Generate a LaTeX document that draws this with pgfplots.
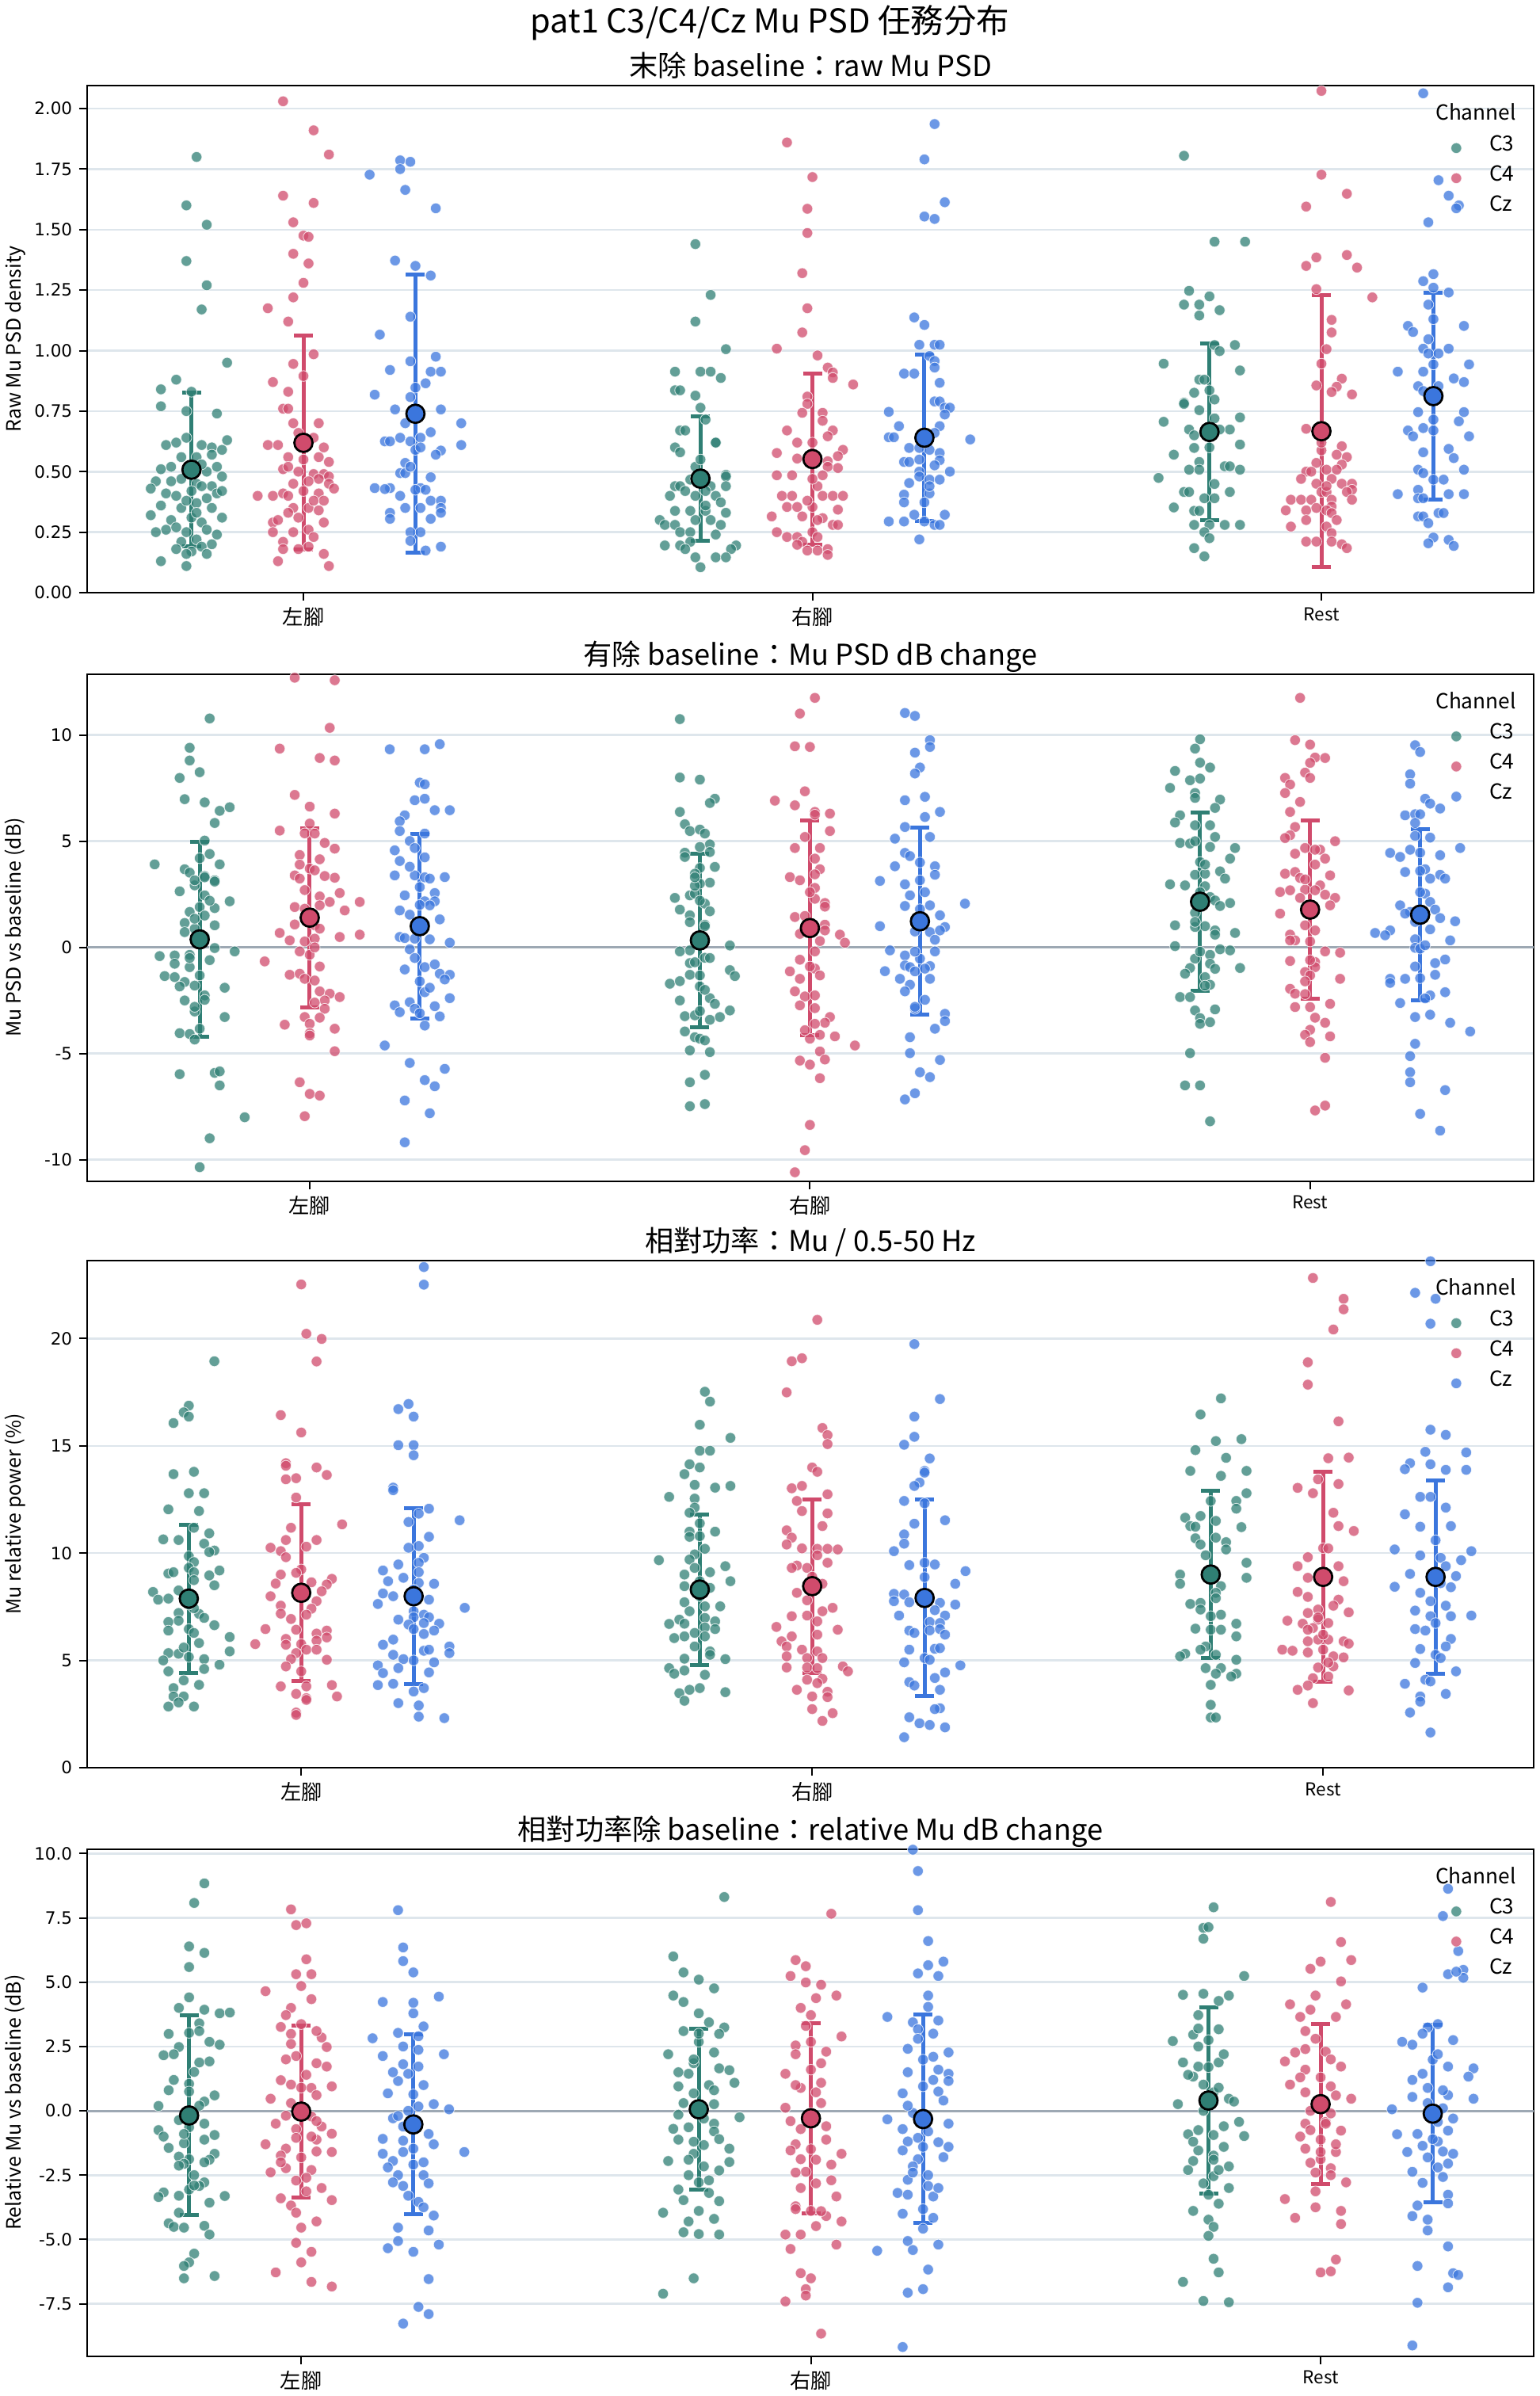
\documentclass[border=0pt]{standalone}
\usepackage{fontspec}
\setmainfont{Noto Sans CJK TC}
\newfontfamily\numfont{DejaVu Sans}
\usepackage{pgfplots}
\pgfplotsset{compat=1.18}

\definecolor{cA}{HTML}{2F7F74}
\definecolor{cB}{HTML}{D04B6C}
\definecolor{cC}{HTML}{3B76DD}
\definecolor{gridc}{HTML}{DEE6EC}
\definecolor{zeroc}{HTML}{9DA8B3}

\newcommand\cjktick[1]{{\fontsize{10.5}{12}\selectfont #1}}

\pgfplotsset{
  panel/.style={
    scale only axis, width=730.4pt, height=256pt,
    axis line style={line width=0.8pt},
    xtick={0,1,2}, xticklabels={\cjktick{左腳},\cjktick{右腳},Rest},
    tick align=outside, tick pos=left, major tick length=4pt,
    every tick/.style={black, line width=0.8pt},
    ymajorgrids, grid style={gridc, line width=1pt},
    xticklabel style={font=\fontsize{9}{10}\selectfont},
    yticklabel style={font=\numfont\fontsize{8.6}{10}\selectfont},
    /pgf/number format/assume math mode=true,
    title style={at={(0.5,1)}, anchor=base, yshift=-1.4pt, font=\fontsize{14.5}{17}\selectfont},
    ylabel style={at={(axis description cs:-0.0498,0.5)}, anchor=center, font=\fontsize{10}{12}\selectfont},
    legend cell align=left,
    legend style={at={(rel axis cs:0.995,0.915)}, anchor=north east, draw=none, fill=none,
      font=\fontsize{10.5}{12}\selectfont, row sep=0pt,
      nodes={inner xsep=3pt, inner ysep=0pt, text height=9pt, text depth=6.2pt},
      /tikz/every odd column/.style={column sep=11pt}},
  },
  pts/.style={only marks, mark=*, mark size=2.7pt,
    mark options={draw=white, line width=0.35pt, fill=#1, opacity=0.75}, forget plot},
  legpt/.style={only marks, mark=*, mark size=2.7pt,
    mark options={draw=white, line width=0.35pt, fill=#1, opacity=0.75}},
  mn/.style={only marks, mark=*, mark size=4.6pt,
    mark options={fill=#1, draw=black, line width=1.1pt}, forget plot,
    error bars/.cd, y dir=both, y explicit,
    error bar style={#1, line width=2pt},
    error mark options={rotate=90, #1, line width=2pt, mark size=4.8pt}},
  zero/.style={zeroc, line width=1.2pt, forget plot},
}

% one strip of jittered trials: jitter in hundredths of a category, then the value
\newcommand\grp[3]{\addplot[pts=#1, x filter/.expression={x/100+(#2)}] coordinates {#3};}
% mean with +/- one standard deviation
\newcommand\mn[4]{\addplot[mn=#1] coordinates {(#2,#3) +- (0,#4)};}
\newcommand\chlegend{%
  \addlegendimage{legpt=cA}\addlegendentry{C3}
  \addlegendimage{legpt=cB}\addlegendentry{C4}
  \addlegendimage{legpt=cC}\addlegendentry{Cz}
  \node[font=\fontsize{10.5}{12}\selectfont, anchor=center] at (rel axis cs:0.960,0.948) {Channel};}

\begin{document}
\begin{tikzpicture}
\path[use as bounding box] (-44pt,43.2pt) rectangle (733.6pt,-1166.4pt);
\node[anchor=base, font=\fontsize{16.6}{20}\selectfont] at (344.8pt,26.4pt) {pat1 C3/C4/Cz Mu PSD 任務分布};

%% ---------------- raw PSD ----------------
\begin{axis}[panel, at={(0,0)}, anchor=north west,
  xmin=-0.425, xmax=2.417, ymin=0, ymax=2.095,
  ytick={0,0.25,0.5,0.75,1,1.25,1.5,1.75,2},
  yticklabel style={/pgf/number format/.cd, fixed, fixed zerofill, precision=2},
  title={末除 baseline：raw Mu PSD}, ylabel={Raw Mu PSD density}]
\grp{cA}{-0.22}{(1,1.80) (-1,1.60) (3,1.52) (-1,1.37) (3,1.27) (2,1.17) (7,0.95) (-3,0.88) (-6,0.84) (-6,0.77) (5,0.74) (0,0.83) (-1,0.75) (-5,0.61) (-3,0.62) (-1,0.64) (2,0.61) (4,0.60) (6,0.59) (7,0.63) (-2,0.56) (1,0.56) (4,0.57) (-4,0.52) (-6,0.51) (0,0.51) (3,0.50) (5,0.52) (-7,0.46) (-2,0.47) (1,0.45) (4,0.44) (6,0.48) (-8,0.43) (-5,0.41) (-3,0.40) (0,0.42) (3,0.39) (5,0.41) (-6,0.36) (-2,0.35) (1,0.37) (4,0.35) (-8,0.32) (-4,0.30) (0,0.31) (2,0.29) (6,0.31) (-5,0.26) (-1,0.25) (3,0.26) (5,0.24) (-7,0.25) (-2,0.21) (1,0.22) (4,0.20) (-3,0.18) (0,0.17) (2,0.19) (-1,0.16) (-6,0.13) (-1,0.11) (3,0.16) (6,0.42) (-4,0.46) (2,0.44) (-1,0.38) (1,0.33) (-3,0.27) (2,0.53)}
\grp{cB}{0}{(-4,2.03) (2,1.91) (5,1.81) (-4,1.64) (2,1.61) (-2,1.53) (0,1.475) (1,1.47) (-2,1.40) (1,1.36) (0,1.28) (-2,1.22) (-7,1.175) (-3,1.12) (2,0.985) (-2,0.945) (0,0.895) (-6,0.87) (-3,0.83) (-4,0.76) (-3,0.76) (-2,0.70) (3,0.70) (-7,0.61) (-5,0.61) (4,0.60) (3,0.56) (-3,0.56) (5,0.54) (-4,0.51) (-3,0.52) (-1,0.50) (2,0.49) (4,0.49) (5,0.48) (3,0.47) (1,0.46) (5,0.45) (-9,0.40) (-6,0.40) (-4,0.41) (-3,0.40) (3,0.41) (4,0.38) (-2,0.35) (1,0.35) (-3,0.33) (-6,0.29) (-5,0.30) (4,0.29) (-6,0.25) (-2,0.25) (1,0.26) (2,0.23) (-4,0.21) (-4,0.18) (-1,0.18) (1,0.19) (4,0.16) (-5,0.13) (5,0.11) (0,0.42) (2,0.38) (-1,0.31) (3,0.34) (0,0.55) (-2,0.45) (2,0.64) (6,0.43) (-1,0.66)}
\grp{cC}{0.22}{(-3,1.786) (-1,1.78) (-3,1.75) (-9,1.727) (-2,1.664) (4,1.588) (-4,1.372) (0,1.35) (3,1.31) (-1,1.14) (-7,1.066) (4,0.975) (-1,0.956) (-5,0.92) (3,0.913) (5,0.913) (2,0.865) (0,0.847) (-8,0.818) (-1,0.808) (-4,0.757) (5,0.757) (9,0.70) (-2,0.70) (3,0.663) (-3,0.64) (1,0.64) (-6,0.625) (-5,0.625) (-1,0.625) (9,0.61) (0,0.59) (5,0.587) (4,0.57) (-2,0.536) (-3,0.494) (-2,0.494) (3,0.477) (-8,0.432) (-5,0.432) (1,0.432) (-6,0.428) (0,0.425) (2,0.425) (3,0.38) (5,0.38) (-2,0.35) (5,0.35) (1,0.35) (-5,0.33) (5,0.33) (-5,0.305) (3,0.305) (-1,0.25) (1,0.25) (-1,0.214) (5,0.19) (2,0.174) (-1,0.52) (1,0.60) (-3,0.40)}
\grp{cA}{0.78}{(-1,1.44) (2,1.23) (-1,1.12) (5,1.006) (-5,0.913) (0,0.913) (2,0.913) (4,0.887) (-5,0.836) (-4,0.836) (-1,0.814) (0,0.764) (1,0.715) (-4,0.67) (-3,0.67) (3,0.62) (3,0.62) (-5,0.60) (-4,0.58) (-1,0.52) (5,0.487) (5,0.48) (-2,0.467) (-5,0.44) (-4,0.44) (2,0.44) (5,0.44) (-3,0.42) (1,0.42) (-6,0.40) (-1,0.40) (3,0.40) (4,0.373) (-5,0.338) (-2,0.338) (1,0.338) (5,0.33) (-8,0.30) (-1,0.30) (2,0.30) (-7,0.28) (-5,0.28) (4,0.28) (-4,0.25) (-2,0.25) (3,0.24) (-2,0.21) (-7,0.195) (-4,0.195) (7,0.195) (-3,0.18) (6,0.18) (-1,0.146) (3,0.146) (5,0.146) (0,0.105) (0,0.55) (1,0.36) (-1,0.47)}
\grp{cB}{1}{(-5,1.86) (0,1.717) (-1,1.586) (-1,1.486) (-2,1.32) (-1,1.175) (-2,1.075) (-7,1.008) (1,0.98) (3,0.93) (4,0.91) (4,0.887) (8,0.86) (-1,0.81) (-1,0.78) (-2,0.743) (2,0.743) (2,0.71) (-5,0.67) (4,0.67) (3,0.646) (-3,0.62) (6,0.59) (-7,0.577) (5,0.564) (-3,0.554) (3,0.543) (5,0.515) (3,0.52) (-7,0.485) (-4,0.485) (2,0.485) (1,0.44) (-6,0.40) (-4,0.40) (2,0.40) (4,0.40) (6,0.40) (-5,0.354) (-3,0.354) (0,0.354) (5,0.343) (-8,0.315) (-2,0.315) (2,0.308) (4,0.28) (5,0.28) (-7,0.25) (0,0.25) (-5,0.23) (-3,0.23) (1,0.23) (-2,0.21) (-3,0.198) (3,0.18) (-1,0.174) (1,0.174) (3,0.156) (0,0.47) (-1,0.38) (1,0.30) (0,0.62)}
\grp{cC}{1.22}{(2,1.936) (0,1.79) (4,1.613) (0,1.554) (2,1.544) (-2,1.137) (0,1.106) (-1,1.024) (2,1.024) (3,1.024) (1,0.978) (2,0.957) (2,0.93) (-4,0.905) (-2,0.905) (3,0.867) (2,0.79) (3,0.79) (4,0.764) (5,0.764) (-7,0.747) (4,0.736) (3,0.688) (-5,0.688) (2,0.66) (-7,0.642) (-6,0.642) (9,0.633) (-3,0.598) (-1,0.598) (1,0.59) (3,0.577) (3,0.547) (-4,0.54) (-3,0.54) (2,0.526) (-1,0.50) (5,0.50) (-1,0.48) (1,0.467) (3,0.467) (-3,0.453) (1,0.41) (-4,0.405) (-4,0.373) (0,0.373) (-2,0.322) (4,0.322) (-7,0.294) (-4,0.294) (0,0.294) (2,0.28) (3,0.28) (-1,0.22) (0,0.62) (-1,0.55) (1,0.44)}
\grp{cA}{1.78}{(-1,2.10) (-5,1.805) (1,1.45) (7,1.45) (-4,1.247) (0,1.224) (-5,1.19) (-2,1.19) (2,1.167) (-2,1.145) (1,1.023) (5,1.023) (2,0.998) (-9,0.946) (6,0.918) (-2,0.88) (-1,0.88) (0,0.836) (-3,0.826) (1,0.798) (-5,0.785) (-5,0.78) (-2,0.754) (6,0.724) (-9,0.706) (-4,0.674) (4,0.674) (2,0.674) (-3,0.65) (6,0.612) (-3,0.598) (-7,0.57) (-2,0.54) (3,0.522) (4,0.522) (-4,0.508) (-2,0.508) (6,0.508) (-10,0.474) (1,0.449) (-5,0.416) (-4,0.416) (4,0.416) (-1,0.39) (1,0.39) (-7,0.352) (-3,0.338) (-2,0.338) (-3,0.28) (0,0.28) (3,0.28) (6,0.28) (-1,0.25) (0,0.225) (-3,0.184) (-1,0.15) (0,0.60) (1,0.72)}
\grp{cB}{2}{(0,2.073) (0,1.727) (5,1.648) (-3,1.595) (5,1.395) (-1,1.385) (-3,1.35) (7,1.343) (-1,1.254) (10,1.22) (2,1.127) (2,1.075) (1,1.006) (0,0.946) (4,0.884) (-1,0.856) (3,0.851) (2,0.829) (6,0.819) (-3,0.677) (4,0.605) (0,0.588) (3,0.57) (5,0.56) (-1,0.536) (4,0.529) (1,0.508) (3,0.508) (-3,0.50) (-2,0.50) (-4,0.47) (2,0.47) (-1,0.45) (4,0.45) (6,0.45) (6,0.425) (0,0.416) (1,0.416) (5,0.416) (-6,0.384) (-4,0.384) (-2,0.384) (2,0.384) (6,0.384) (2,0.356) (-7,0.34) (-3,0.34) (1,0.34) (2,0.329) (-3,0.30) (3,0.30) (-6,0.273) (1,0.273) (2,0.246) (-3,0.211) (-1,0.211) (2,0.211) (4,0.20) (5,0.184) (0,0.62) (-1,0.35) (1,0.44)}
\grp{cC}{2.22}{(-2,2.063) (1,1.704) (3,1.64) (5,1.60) (-1,1.53) (0,1.316) (-2,1.287) (0,1.26) (3,1.24) (-1,1.19) (0,1.13) (-5,1.102) (6,1.102) (-4,1.077) (-1,1.047) (-2,1.008) (3,1.008) (-1,0.988) (1,0.988) (0,0.943) (7,0.943) (-7,0.913) (-2,0.913) (4,0.885) (6,0.87) (-3,0.853) (1,0.853) (-2,0.833) (-3,0.746) (6,0.746) (0,0.715) (5,0.708) (-2,0.68) (-5,0.67) (0,0.67) (-4,0.646) (7,0.646) (3,0.594) (-2,0.58) (4,0.556) (-3,0.508) (6,0.508) (-2,0.494) (0,0.467) (2,0.467) (-3,0.425) (-7,0.407) (3,0.407) (6,0.407) (-3,0.39) (-2,0.39) (1,0.329) (2,0.329) (-3,0.315) (-2,0.315) (-1,0.287) (0,0.228) (3,0.218) (-1,0.204) (4,0.193)}
\mn{cA}{-0.22}{0.508}{0.318}
\mn{cB}{0}{0.619}{0.442}
\mn{cC}{0.22}{0.739}{0.575}
\mn{cA}{0.78}{0.471}{0.257}
\mn{cB}{1}{0.552}{0.353}
\mn{cC}{1.22}{0.640}{0.343}
\mn{cA}{1.78}{0.664}{0.366}
\mn{cB}{2}{0.667}{0.562}
\mn{cC}{2.22}{0.812}{0.426}
\chlegend
\end{axis}

%% ---------------- dB change ----------------
\begin{axis}[panel, at={(0,-297pt)}, anchor=north west,
  xmin=-0.445, xmax=2.447, ymin=-11.0, ymax=12.88,
  ytick={-10,-5,0,5,10},
  title={有除 baseline：Mu PSD dB change}, ylabel={Mu PSD vs baseline (dB)}]
\addplot[zero] coordinates {(-1,0) (3,0)};
\grp{cA}{-0.22}{(2,10.78) (-2,9.4) (-2,8.8) (0,8.25) (-4,7.98) (-3,6.98) (1,6.83) (4,6.43) (6,6.6) (3,5.86) (1,5.03) (2,4.4) (-9,3.91) (4,3.91) (-3,3.68) (-2,3.52) (1,3.36) (3,3.16) (3,3.1) (-1,2.92) (-4,2.64) (6,2.17) (3,1.85) (-2,1.67) (0,1.9) (-3,1.15) (3,1.04) (-1,0.88) (1,0.49) (3,-0.03) (7,-0.19) (-8,-0.41) (-5,-0.38) (-2,-0.35) (-5,-0.77) (-2,-0.93) (-7,-1.35) (-5,-1.4) (-3,-1.63) (-4,-1.84) (0,-1.32) (5,-1.9) (1,-2.26) (-1,-3.02) (1,-2.47) (5,-3.28) (-4,-4.04) (-2,-4.08) (0,-3.83) (-1,-4.34) (-4,-5.97) (3,-5.91) (4,-5.84) (4,-6.5) (9,-8.0) (2,-8.99) (0,-10.35) (-1,1.35) (-1,3.16) (1,2.45) (-3,0.72) (0,4.2) (2,-0.6) (-1,-2.8) (1,1.5) (-2,-0.5) (2,2.2) (-1,-1.8) (1,3.3) (-3,-2.5)}
\grp{cB}{0}{(-3,12.7) (5,12.58) (4,10.34) (-6,9.36) (2,8.92) (5,8.8) (-3,7.18) (0,6.63) (5,6.3) (0,5.83) (-6,5.5) (-1,5.37) (1,5.36) (3,4.92) (5,4.65) (-2,4.35) (2,4.15) (0,3.71) (1,3.63) (-3,3.39) (5,3.28) (3,3.36) (-2,3.24) (6,2.56) (2,2.4) (4,2.14) (10,2.14) (-3,1.9) (-1,1.82) (2,1.98) (7,1.74) (-3,1.08) (1,1.04) (2,0.88) (-6,0.68) (10,0.6) (-4,0.33) (-1,0.28) (1,0.41) (6,0.49) (0,-0.35) (-2,-0.19) (-9,-0.66) (-4,-1.29) (-2,-1.24) (-1,-1.48) (1,-1.56) (2,-2.07) (4,-2.18) (6,-2.34) (3,-2.5) (3,-2.89) (-1,-3.28) (2,-3.31) (0,-3.6) (-5,-3.64) (5,-3.83) (0,-4.04) (0,-4.15) (5,-4.89) (-2,-6.35) (0,-6.9) (2,-6.98) (-1,-7.95) (-1,2.7) (1,0.0) (2,-0.9) (-2,3.9) (1,-2.6) (0,1.2)}
\grp{cC}{0.22}{(-6,9.33) (1,9.33) (4,9.57) (0,7.76) (1,7.68) (-1,6.93) (1,7.0) (3,6.46) (6,6.46) (-3,6.22) (-4,5.94) (-4,5.48) (1,5.36) (-2,5.01) (-1,4.68) (-5,4.57) (1,4.24) (-4,4.07) (-5,3.39) (-1,3.39) (1,3.3) (2,3.24) (5,3.31) (0,2.84) (-3,2.45) (3,2.56) (1,2.17) (3,2.17) (-4,1.74) (-2,1.54) (4,1.32) (2,1.98) (0,0.8) (-4,0.49) (-3,0.44) (-1,0.41) (2,0.38) (6,0.22) (-2,-0.09) (1,-0.93) (-3,-1.04) (3,-0.8) (4,-1.24) (6,-1.29) (5,-1.51) (0,-1.6) (1,-2.11) (6,-2.39) (-2,-2.58) (-5,-2.73) (3,-2.77) (-4,-3.05) (-1,-2.89) (4,-3.25) (1,-3.68) (-7,-4.62) (-2,-5.44) (5,-5.72) (1,-6.25) (3,-6.54) (-3,-7.21) (2,-7.81) (-3,-9.18) (0,2.0) (-1,-0.5) (1,1.1) (-2,3.8) (2,-1.9) (0,-3.1)}
\grp{cA}{0.78}{(-4,10.75) (-4,8.0) (0,7.9) (3,7.0) (2,6.8) (-4,6.38) (-3,5.8) (-2,5.48) (0,5.55) (1,5.36) (2,4.85) (0,4.73) (-3,4.46) (-3,4.26) (2,4.49) (3,3.79) (0,3.74) (-1,3.47) (2,3.05) (0,3.0) (-5,2.33) (-2,2.45) (-1,2.53) (-4,1.78) (1,2.06) (2,1.7) (-2,1.51) (-2,1.19) (1,1.07) (6,0.09) (-2,-0.14) (-4,-0.19) (1,-0.49) (2,-0.5) (-2,-0.74) (6,-1.07) (7,-1.35) (-2,-1.29) (0,-1.32) (-6,-1.71) (-4,-1.59) (0,-1.84) (2,-2.39) (-4,-2.5) (3,-2.66) (6,-2.97) (-3,-3.24) (-1,-3.2) (4,-3.28) (2,-3.41) (-3,-3.96) (-1,-4.23) (0,-4.3) (1,-4.38) (-2,-4.85) (2,-4.93) (1,-6.0) (-2,-6.35) (-2,-7.48) (1,-7.38) (0,0.5) (-1,2.9) (1,1.0) (-1,-0.7) (0,2.2) (1,-2.0) (-1,3.3) (0,-3.0)}
\grp{cB}{1}{(-2,11.01) (-3,9.47) (-7,6.91) (-3,6.69) (-3,4.68) (-4,3.31) (-2,3.16) (-3,1.43) (-1,1.48) (-2,0.64) (-2,-0.58) (-4,-1.13) (-2,-1.48) (-3,-2.07) (-1,-2.31) (-2,-2.73) (-2,-5.33) (0,-5.52) (-1,-9.55) (-3,-10.59) (0,-4.3) (0,-8.36) (1,11.75) (0,9.44) (-1,7.35) (1,6.38) (4,6.3) (1,6.25) (4,5.48) (2,4.68) (1,4.18) (2,3.68) (1,3.44) (1,2.8) (1,2.29) (3,2.09) (3,1.92) (3,1.07) (3,0.8) (6,0.6) (7,0.22) (1,-0.19) (1,-1.0) (2,-1.32) (1,-2.26) (1,-2.86) (4,-3.28) (3,-3.55) (1,-3.6) (2,-4.12) (5,-4.19) (9,-4.62) (2,-4.9) (3,-5.28) (2,-6.16) (0,2.6) (-1,5.2) (0,-0.9) (-1,-3.9) (2,0.3)}
\grp{cC}{1.22}{(-3,11.04) (-1,10.9) (2,9.76) (2,9.44) (-1,9.17) (0,8.47) (-1,8.19) (-3,6.93) (1,7.09) (4,6.38) (1,6.14) (-3,5.67) (-5,5.12) (2,5.2) (-3,4.45) (-2,4.3) (-5,3.82) (3,3.82) (3,3.42) (-8,3.13) (0,3.16) (-3,2.97) (-2,2.45) (2,1.98) (-3,1.95) (9,2.06) (4,1.51) (-8,1.0) (5,0.96) (-1,0.75) (2,0.72) (4,0.8) (3,0.36) (-6,-0.14) (3,-0.19) (-3,-0.38) (0,-0.53) (-3,-0.85) (-2,-0.93) (2,-0.88) (-7,-1.12) (-1,-1.13) (-4,-1.48) (2,-1.48) (-2,-1.76) (-3,-2.07) (1,-2.47) (-1,-2.89) (5,-3.13) (5,-3.47) (3,-3.83) (-2,-4.23) (-2,-4.98) (4,-5.3) (0,-5.88) (2,-6.11) (-1,-6.87) (-3,-7.16) (0,1.8) (-1,-0.2) (1,2.6) (1,-1.0) (0,4.0) (-1,-2.8)}
\grp{cA}{1.78}{(0,9.8) (-1,9.36) (0,8.7) (2,8.47) (-5,8.31) (-2,7.87) (0,7.95) (-6,7.51) (-1,7.27) (-1,7.04) (4,6.96) (3,6.57) (-4,6.22) (-5,5.88) (-1,5.75) (2,5.75) (3,5.2) (-4,4.92) (-2,4.89) (7,4.68) (2,4.73) (6,4.18) (0,4.02) (4,3.58) (-1,3.42) (1,3.47) (5,3.24) (-6,2.97) (-3,2.92) (1,2.88) (2,2.37) (3,2.21) (6,2.09) (4,1.95) (-1,1.63) (-5,1.04) (1,1.0) (-1,0.96) (3,0.8) (7,0.68) (3,0.6) (-5,0.06) (4,-0.09) (6,-0.14) (2,-0.35) (-1,-0.53) (2,-0.77) (-2,-0.97) (-3,-1.24) (3,-1.01) (8,-0.97) (1,-1.4) (2,-1.76) (-4,-2.34) (-2,-2.34) (3,-2.92) (-1,-2.97) (0,-3.33) (0,-3.6) (2,-3.52) (-2,-4.98) (-3,-6.5) (0,-6.5) (2,-8.19) (0,2.6) (-1,1.2) (1,3.9) (0,-0.2) (-1,5.0) (1,-1.8)}
\grp{cB}{2}{(-2,11.75) (-3,9.76) (0,9.55) (1,8.94) (3,8.92) (0,8.69) (-1,8.23) (0,7.98) (-5,7.98) (-4,7.67) (-5,7.27) (-2,6.85) (-4,6.38) (-3,5.67) (-4,5.28) (-5,5.15) (5,5.0) (-1,4.68) (2,4.6) (-3,4.41) (3,4.18) (1,3.9) (-5,3.47) (-3,3.55) (4,3.39) (-2,3.27) (2,2.92) (-6,2.61) (-4,2.69) (-1,2.72) (1,2.69) (3,2.48) (5,2.33) (4,1.98) (-6,1.59) (-2,2.33) (-1,1.04) (-4,0.6) (-3,0.33) (-4,0.33) (0,0.28) (3,-0.19) (6,-0.25) (-4,-0.64) (1,-0.69) (1,-0.93) (-1,-1.16) (0,-1.32) (6,-1.48) (-1,-1.6) (-4,-1.95) (-3,-2.18) (-3,-2.81) (0,-2.81) (4,-2.66) (1,-3.31) (3,-3.55) (0,-3.88) (-1,-4.12) (4,-4.19) (0,-4.46) (3,-5.2) (1,-7.68) (3,-7.45) (0,2.0) (-1,3.2) (1,0.8) (0,-0.6) (1,4.6) (-1,-2.2)}
\grp{cC}{2.22}{(-1,9.52) (0,9.2) (-2,8.15) (-2,7.71) (1,7.0) (2,6.77) (4,6.54) (-3,6.22) (-1,6.27) (0,6.27) (-1,5.86) (-1,5.25) (2,5.17) (8,4.68) (-6,4.45) (-4,4.26) (-2,4.6) (0,4.46) (4,4.34) (-3,3.55) (1,3.68) (4,3.42) (2,3.24) (5,3.24) (1,2.53) (-4,1.98) (-2,1.67) (2,2.14) (3,1.78) (-3,1.59) (4,1.38) (7,1.23) (-9,0.68) (-6,0.8) (-7,0.57) (2,0.85) (6,0.33) (-1,0.38) (-1,-0.02) (0,-0.06) (5,-0.57) (3,-0.74) (3,-1.29) (-6,-1.48) (-6,-1.67) (-3,-1.48) (0,-1.45) (5,-2.11) (2,-2.26) (-4,-2.62) (-1,-3.28) (2,-3.17) (6,-3.55) (10,-3.96) (-1,-4.54) (-2,-5.12) (-2,-5.88) (-2,-6.35) (5,-6.72) (0,-7.84) (4,-8.63) (0,2.6) (-1,1.2) (1,0.1) (0,3.6) (-1,-0.9) (1,-2.4)}
\mn{cA}{-0.22}{0.377}{4.60}
\mn{cB}{0}{1.40}{4.21}
\mn{cC}{0.22}{1.00}{4.35}
\mn{cA}{0.78}{0.33}{4.08}
\mn{cB}{1}{0.91}{5.05}
\mn{cC}{1.22}{1.23}{4.40}
\mn{cA}{1.78}{2.15}{4.20}
\mn{cB}{2}{1.78}{4.20}
\mn{cC}{2.22}{1.54}{4.02}
\chlegend
\end{axis}

%% ---------------- relative power ----------------
\begin{axis}[panel, at={(0,-593.2pt)}, anchor=north west,
  xmin=-0.419, xmax=2.412, ymin=0, ymax=23.63,
  ytick={0,5,10,15,20},
  title={相對功率：Mu / 0.5-50 Hz}, ylabel={Mu relative power (\%)}]
\grp{cA}{-0.22}{(5,18.94) (0,16.87) (-1,16.56) (0,16.36) (-3,16.06) (-3,13.68) (1,13.79) (0,12.79) (3,12.79) (-4,12.04) (2,11.96) (1,11.18) (4,10.92) (-5,10.64) (-2,10.61) (3,10.44) (5,10.12) (4,10.05) (0,9.86) (1,9.58) (0,9.31) (6,9.19) (-4,9.05) (-3,9.11) (1,9.11) (4,8.96) (1,8.74) (5,8.5) (-7,8.19) (-2,8.26) (-6,7.83) (-4,7.88) (-2,7.21) (2,7.17) (1,7.43) (-2,6.85) (3,6.98) (-4,6.79) (5,6.64) (0,6.46) (1,6.28) (-4,6.39) (2,5.81) (8,6.09) (8,5.42) (-4,5.34) (-2,5.31) (-5,5.0) (0,5.16) (3,5.06) (6,4.8) (-4,4.49) (3,4.6) (-1,4.07) (2,3.86) (-3,3.71) (-3,3.32) (-1,3.32) (-2,3.04) (-4,2.85) (1,2.85) (0,7.6) (-1,5.6)}
\grp{cB}{0}{(0,22.52) (1,20.22) (4,19.98) (3,18.93) (-4,16.43) (0,15.62) (-3,14.19) (-3,14.07) (3,13.99) (5,13.64) (-3,13.44) (-1,13.49) (-1,12.59) (8,11.34) (-2,11.18) (-3,10.61) (3,10.61) (-6,10.25) (-4,10.09) (1,10.3) (-3,9.81) (0,9.24) (-1,9.08) (-4,9.0) (6,8.8) (2,8.64) (5,8.54) (-5,8.58) (4,8.22) (-6,7.99) (3,7.76) (-4,7.55) (2,7.41) (-4,7.18) (-2,6.93) (1,7.13) (-1,6.43) (-7,6.46) (3,6.25) (5,6.39) (5,6.07) (-3,6.0) (3,5.92) (-9,5.76) (0,5.76) (-3,5.73) (1,5.5) (3,5.5) (-1,5.34) (-2,5.06) (5,5.03) (-3,4.72) (0,4.49) (-4,3.79) (6,3.85) (1,3.79) (-1,3.44) (7,3.32) (1,3.24) (1,3.16) (-1,2.57) (-1,2.46)}
\grp{cC}{0.22}{(2,23.33) (2,22.51) (-1,16.95) (-3,16.71) (0,16.36) (-3,15.03) (0,15.03) (0,14.56) (-4,13.05) (-4,12.93) (3,12.07) (1,11.84) (9,11.53) (-1,11.45) (3,10.76) (1,10.33) (-1,10.25) (2,9.78) (1,9.55) (-3,9.47) (-6,9.19) (-2,8.85) (1,9.11) (-5,8.69) (4,8.57) (1,8.61) (0,8.3) (-6,8.12) (-4,7.99) (3,7.83) (-7,7.63) (10,7.45) (0,7.29) (2,7.13) (0,7.01) (3,7.01) (-3,6.9) (5,6.71) (-1,6.67) (2,6.74) (0,6.46) (4,6.39) (2,6.23) (-6,5.73) (-4,5.97) (7,5.65) (2,5.45) (-4,5.26) (3,5.5) (7,5.34) (-2,5.06) (0,5.0) (4,4.91) (-7,4.77) (-3,4.64) (3,4.44) (-6,4.41) (-7,3.85) (-4,3.91) (2,3.71) (0,3.55) (-3,3.01) (1,2.9) (6,2.31) (1,2.38)}
\grp{cA}{0.78}{(1,17.52) (2,17.06) (0,15.98) (6,15.37) (0,14.77) (2,14.77) (-2,14.14) (0,13.99) (-3,13.68) (-1,13.18) (3,13.05) (6,13.13) (-6,12.62) (-1,12.54) (-1,12.12) (-2,11.88) (0,11.39) (3,11.0) (-2,11.0) (-2,10.76) (0,10.79) (1,10.2) (-1,9.94) (-2,9.7) (-8,9.67) (5,9.39) (-1,9.31) (2,9.11) (-3,9.0) (6,8.69) (0,8.69) (-3,8.46) (2,8.38) (0,7.99) (-3,7.71) (4,7.52) (1,7.52) (-2,7.29) (1,6.98) (-4,6.9) (3,6.82) (-6,6.7) (-3,6.71) (1,6.54) (3,6.46) (-1,6.28) (-5,6.04) (-3,6.12) (1,6.12) (-1,5.65) (2,5.42) (5,5.06) (-3,5.08) (2,5.26) (-6,4.64) (-5,4.38) (-3,4.53) (1,4.33) (-2,3.63) (0,3.71) (-4,3.47) (5,3.52) (-3,3.12)}
\grp{cB}{1}{(-4,18.94) (-2,19.08) (-5,17.49) (0,13.99) (-4,13.02) (-2,13.13) (-3,12.43) (-2,11.96) (-5,11.06) (-4,10.72) (-5,10.4) (-2,10.22) (-3,9.42) (-1,9.31) (-4,9.31) (-3,8.15) (-4,7.06) (-1,7.09) (-7,6.56) (-4,6.12) (-6,5.89) (-5,5.65) (-2,5.5) (-5,5.19) (-1,5.11) (-5,4.67) (-1,4.67) (-1,4.1) (-3,3.63) (0,3.32) (0,2.73) (1,20.87) (2,15.83) (3,15.5) (3,15.08) (1,13.79) (3,12.74) (3,11.85) (2,11.26) (1,10.2) (3,10.2) (5,10.17) (3,9.55) (2,8.57) (4,7.45) (2,7.29) (1,6.82) (5,6.43) (1,6.2) (1,5.42) (2,5.11) (6,4.72) (7,4.49) (1,4.64) (2,4.14) (3,3.54) (3,3.29) (2,2.18) (4,2.54) (1,3.94) (0,8.9) (-1,7.8) (1,9.9)}
\grp{cC}{1.22}{(-2,19.74) (3,17.18) (-2,16.36) (-2,15.42) (-4,15.05) (1,14.41) (0,13.83) (0,13.75) (-1,13.29) (-2,13.13) (-4,12.43) (0,12.32) (4,11.53) (-2,11.37) (-4,10.87) (-6,10.09) (-4,10.44) (0,9.55) (-3,9.44) (2,9.47) (8,9.16) (6,8.57) (0,8.88) (-6,8.1) (-4,8.07) (-6,7.76) (-3,7.71) (3,7.68) (6,7.6) (-5,7.09) (2,7.34) (4,7.09) (1,6.79) (3,6.74) (-3,6.39) (1,6.4) (3,6.46) (4,6.2) (-2,6.28) (-3,5.5) (2,5.54) (3,5.57) (0,5.11) (-4,4.91) (7,4.77) (1,5.03) (4,4.44) (2,4.18) (-3,3.99) (-2,3.83) (3,3.63) (3,2.77) (2,2.73) (-3,2.35) (-1,2.07) (1,1.99) (4,1.88) (-4,1.42)}
\grp{cA}{1.78}{(2,17.21) (-2,16.46) (1,15.22) (6,15.31) (-3,14.8) (3,14.44) (-4,13.83) (2,13.6) (7,13.83) (7,12.79) (5,12.43) (5,12.07) (0,12.43) (-5,11.65) (-2,11.73) (1,11.5) (-4,11.26) (-3,11.23) (6,11.21) (-3,10.69) (1,10.72) (3,10.51) (-2,10.4) (3,10.17) (7,9.55) (-6,9.0) (0,9.08) (7,8.85) (-6,8.57) (2,8.46) (1,8.15) (-4,7.63) (-2,7.68) (-2,7.37) (2,7.13) (0,7.06) (5,6.71) (-3,6.48) (0,6.43) (2,6.43) (5,6.12) (-1,5.65) (-2,5.5) (-5,5.31) (1,5.26) (5,5.03) (-6,5.19) (-1,4.64) (2,4.64) (1,4.38) (5,4.38) (4,4.25) (0,3.86) (0,2.93) (0,2.34) (1,2.34) (-1,9.9) (1,7.9)}
\grp{cB}{2}{(-2,22.82) (4,21.85) (4,21.36) (2,20.42) (-3,18.89) (-3,17.85) (3,16.14) (1,14.42) (5,14.45) (-1,13.44) (3,13.22) (-5,13.04) (-2,12.79) (2,11.88) (3,11.26) (6,11.03) (0,10.23) (1,10.22) (-3,9.81) (-5,9.39) (3,9.39) (-3,8.85) (4,8.69) (-5,8.19) (-3,7.96) (3,7.83) (2,7.55) (-1,7.37) (5,7.24) (-7,6.85) (-3,7.21) (-1,6.9) (1,6.74) (-4,6.71) (-2,6.51) (-3,6.43) (-1,5.97) (4,5.89) (-3,5.89) (1,5.97) (5,5.78) (-8,5.5) (-6,5.45) (-3,5.37) (0,5.5) (2,5.19) (4,5.14) (-1,4.67) (2,4.72) (1,4.25) (-2,4.17) (-5,3.63) (-3,3.83) (5,3.6) (-2,3.01) (0,6.2) (-1,7.0) (1,4.9)}
\grp{cC}{2.22}{(-1,23.6) (-4,22.13) (0,21.85) (-1,20.69) (-1,15.75) (2,15.51) (-2,14.72) (6,14.69) (-5,14.19) (-1,14.14) (6,13.88) (-6,13.91) (2,13.88) (-3,12.62) (-1,12.62) (2,12.12) (-6,11.81) (-3,11.23) (3,11.26) (-8,10.17) (-3,9.89) (1,9.78) (5,9.67) (7,10.09) (2,9.39) (-5,9.03) (4,8.93) (-8,8.43) (-3,8.15) (3,8.41) (-1,7.76) (2,7.55) (-4,7.32) (7,7.09) (-1,7.06) (0,6.74) (3,7.06) (-4,6.46) (-2,6.39) (3,6.0) (2,5.65) (-3,5.53) (0,5.26) (1,5.11) (-4,4.88) (4,4.49) (-2,4.1) (-1,4.02) (-6,3.91) (2,3.44) (-3,3.32) (-3,3.08) (-5,2.57) (-1,1.64) (0,10.6) (1,8.6)}
\mn{cA}{-0.22}{7.88}{3.45}
\mn{cB}{0}{8.15}{4.12}
\mn{cC}{0.22}{7.99}{4.10}
\mn{cA}{0.78}{8.30}{3.50}
\mn{cB}{1}{8.46}{4.05}
\mn{cC}{1.22}{7.91}{4.58}
\mn{cA}{1.78}{9.00}{3.90}
\mn{cB}{2}{8.89}{4.90}
\mn{cC}{2.22}{8.89}{4.50}
\chlegend
\end{axis}

%% ---------------- relative dB change ----------------
\begin{axis}[panel, at={(0,-890.2pt)}, anchor=north west,
  xmin=-0.42, xmax=2.418, ymin=-9.53, ymax=10.18,
  ytick={-7.5,-5,-2.5,0,2.5,5,7.5,10},
  yticklabel style={/pgf/number format/.cd, fixed, fixed zerofill, precision=1},
  title={相對功率除 baseline：relative Mu dB change}, ylabel={Relative Mu vs baseline (dB)}]
\addplot[zero] coordinates {(-1,0) (3,0)};
\grp{cA}{-0.22}{(7,10.25) (3,8.84) (1,8.08) (0,6.39) (3,6.14) (0,5.59) (0,4.41) (-2,4.0) (3,3.93) (6,3.79) (8,3.82) (2,3.4) (-4,2.99) (0,3.03) (4,2.68) (6,2.57) (-2,2.48) (-5,2.16) (4,1.92) (2,1.88) (1,1.51) (0,1.05) (0,0.75) (3,0.36) (-6,0.19) (-2,-0.36) (3,-0.5) (-6,-0.75) (0,-0.64) (5,-0.94) (3,-1.12) (-4,-1.44) (-1,-1.26) (5,-1.67) (-2,-1.78) (0,-1.88) (-1,-2.06) (-2,-2.13) (1,-2.5) (3,-2.78) (2,-2.92) (0,-3.06) (-5,-3.17) (-6,-3.35) (7,-3.31) (4,-3.57) (-2,-3.96) (-4,-4.37) (-3,-4.51) (-1,-4.54) (3,-4.47) (4,-4.81) (1,-5.55) (0,-5.89) (-1,-6.03) (5,-6.42) (-1,-6.51) (-3,1.2) (2,0.2) (-1,-0.9) (4,-1.9) (-3,2.2) (1,-2.9) (-4,0.8) (5,0.6) (-2,-3.3) (2,3.1) (-5,-1.0) (3,-2.0)}
\grp{cB}{0}{(-2,7.83) (-1,7.22) (1,7.29) (1,5.89) (-1,5.31) (2,5.31) (0,4.85) (-7,4.65) (2,4.34) (-2,4.0) (-3,3.72) (-4,3.26) (0,3.37) (-2,2.99) (4,2.85) (5,2.48) (-1,2.13) (3,1.85) (5,1.72) (-4,1.19) (-2,1.02) (2,0.89) (6,0.95) (3,0.61) (-6,0.47) (-3,-0.19) (2,-0.22) (-1,-0.71) (4,-0.61) (6,-0.89) (3,-1.12) (-1,-1.05) (-7,-1.3) (-3,-1.47) (-4,-1.74) (0,-1.81) (3,-1.58) (6,-1.6) (-3,-2.23) (2,-2.3) (-6,-2.39) (-1,-2.71) (1,-3.13) (-4,-3.4) (6,-3.47) (-2,-3.68) (-1,-3.96) (3,-4.3) (0,-4.54) (-1,-5.13) (2,-5.48) (0,-5.89) (-5,-6.28) (2,-6.65) (6,-6.83) (-3,2.0) (1,1.4) (-2,0.3) (3,-0.4) (-5,-0.5) (1,-2.6) (4,-3.0) (-2,2.6) (0,0.9) (3,3.1) (-4,-2.0) (2,-1.0)}
\grp{cC}{0.22}{(-3,7.8) (-2,6.35) (-2,5.82) (0,5.38) (-6,4.23) (0,4.2) (5,4.44) (0,3.79) (2,3.28) (-3,3.03) (-8,2.82) (1,2.37) (6,2.2) (-6,2.13) (-2,1.81) (1,1.72) (-1,1.44) (-3,1.16) (-5,0.68) (0,0.64) (4,0.26) (7,0.06) (1,0.17) (-4,-0.29) (-2,-0.61) (-6,-1.09) (-2,-1.16) (0,-1.47) (-6,-1.67) (-2,-1.6) (-4,-1.95) (10,-1.6) (0,-2.09) (-3,-2.5) (2,-2.5) (-4,-2.78) (-2,-2.92) (3,-2.82) (1,-3.54) (2,-3.75) (4,-4.07) (-3,-4.54) (3,-4.65) (-3,-5.06) (-5,-5.34) (5,-5.2) (0,-5.48) (3,-6.54) (1,-7.62) (3,-7.9) (-2,-8.27) (-1,0.0) (3,-0.9) (-4,1.5) (2,1.0) (-1,-3.3) (4,-1.3) (-3,-0.2) (1,2.9) (-5,-2.2) (2,-2.0) (0,-0.7) (-2,2.5)}
\grp{cA}{0.78}{(5,8.31) (-5,6.0) (-3,5.38) (0,5.1) (3,4.76) (-5,4.48) (-3,4.23) (0,3.79) (2,3.44) (-3,3.1) (5,3.24) (4,2.99) (0,2.68) (3,2.27) (-6,2.2) (-1,1.85) (4,1.65) (6,1.58) (-2,1.44) (7,1.09) (-4,0.95) (-1,0.68) (3,0.26) (-4,-0.15) (8,-0.25) (3,-0.5) (-2,-0.64) (3,-0.8) (-4,-1.12) (1,-1.33) (6,-1.47) (-1,-1.67) (-6,-1.95) (6,-1.99) (1,-2.16) (-2,-2.5) (4,-2.32) (0,-2.78) (-4,-3.06) (2,-3.19) (4,-3.51) (-3,-3.47) (-7,-3.96) (0,-3.89) (3,-4.2) (-2,-4.3) (0,-4.79) (4,-4.81) (-3,-4.72) (-1,-6.51) (-7,-7.11) (-1,2.0) (2,1.0) (-3,0.3) (1,-0.3) (4,-1.1) (-2,-1.9) (2,-2.7) (-4,1.5) (0,3.0) (-1,-1.2) (3,0.8) (-5,-0.7)}
\grp{cB}{1}{(4,7.66) (-3,5.86) (-1,5.62) (-4,5.24) (-1,4.99) (2,4.9) (5,4.48) (1,4.38) (-2,4.0) (0,3.72) (6,2.89) (-3,2.54) (0,2.68) (-3,2.2) (-5,1.44) (2,1.09) (-2,0.89) (1,0.72) (-5,0.12) (0,-0.08) (-2,-0.71) (3,-1.12) (-3,-1.3) (-4,-1.54) (0,-1.49) (6,-1.67) (-2,-1.88) (4,-2.09) (-1,-2.37) (1,-2.82) (5,-3.33) (-3,-3.71) (0,-3.89) (3,-4.09) (6,-4.3) (1,-4.48) (-2,-4.81) (-5,-4.81) (5,-5.2) (-4,-5.37) (-2,-6.31) (0,-6.51) (-1,-6.93) (-1,-7.18) (-5,-7.41) (2,-8.66) (-3,-3.82) (2,1.85) (-1,3.3) (3,2.3) (-3,1.0) (2,0.3) (-4,-0.4) (1,-1.9) (4,-2.7) (-2,-3.0) (3,-0.6) (0,1.6) (-3,-2.4) (2,-3.9)}
\grp{cC}{1.22}{(-2,10.15) (-1,9.32) (-1,7.8) (1,6.6) (-1,5.34) (3,5.24) (4,5.8) (1,5.66) (1,4.48) (1,4.04) (-2,3.44) (3,3.51) (-7,3.65) (-1,3.17) (-3,2.41) (2,2.1) (5,2.27) (0,1.99) (3,1.6) (5,1.44) (5,1.16) (0,0.95) (-4,0.68) (3,0.75) (4,0.4) (-2,-0.08) (-7,-0.33) (5,-0.5) (-4,-0.71) (-1,-1.05) (3,-1.22) (-3,-1.19) (5,-1.4) (-4,-1.54) (-1,-1.88) (-2,-2.16) (1,-2.5) (-3,-2.68) (1,-2.92) (-5,-3.19) (2,-3.33) (-3,-3.26) (0,-3.82) (2,-4.16) (0,-4.58) (-3,-5.06) (3,-5.2) (-9,-5.44) (-2,-5.41) (1,-6.17) (-3,-7.07) (0,-6.93) (-4,-9.18) (-1,2.8) (2,1.2) (-3,0.2) (1,-0.3) (4,-1.8) (-2,-2.4) (3,-3.0) (-4,-4.0) (0,-1.4) (2,3.0) (-3,1.5) (1,-0.8)}
\grp{cA}{1.78}{(1,7.91) (-1,7.11) (0,7.14) (-1,6.69) (7,5.24) (-5,4.51) (-1,4.55) (4,4.48) (2,4.27) (-2,3.72) (2,3.17) (-3,2.96) (-7,2.71) (0,2.75) (-5,1.88) (-2,1.72) (2,1.88) (-3,1.33) (-1,1.02) (1,0.72) (4,0.47) (-6,0.26) (5,0.36) (6,-0.43) (-2,-0.75) (1,-0.94) (7,-0.98) (-4,-0.91) (3,-1.4) (-2,-1.54) (1,-1.74) (-3,-1.95) (4,-2.16) (-4,-2.3) (1,-2.54) (-1,-2.82) (0,-3.26) (2,-3.61) (-3,-3.89) (0,-4.23) (1,-4.51) (0,-4.86) (1,-5.75) (2,-6.28) (-5,-6.65) (-1,-7.39) (4,-7.44) (-2,3.2) (3,2.2) (-4,1.4) (2,0.9) (-1,0.0) (3,-0.6) (-3,-1.2) (1,-1.9) (4,-3.0) (-2,2.5) (0,1.7) (2,-2.3)}
\grp{cB}{2}{(2,8.12) (4,6.56) (6,5.86) (0,5.8) (-2,5.52) (4,5.03) (-1,4.48) (-6,4.14) (5,4.14) (-2,3.93) (-4,3.65) (3,3.65) (-3,3.1) (-5,2.27) (1,2.3) (4,1.72) (-7,1.92) (-3,1.6) (0,1.3) (-6,1.02) (2,0.95) (-3,0.72) (6,0.47) (-3,-0.5) (1,-0.43) (-2,-0.75) (4,-0.77) (0,-1.12) (-3,-1.47) (3,-1.6) (0,-1.88) (-2,-2.02) (2,-2.23) (5,-2.78) (2,-2.5) (-1,-3.13) (-7,-3.43) (-1,-3.75) (4,-3.89) (-5,-4.16) (4,-4.4) (3,-5.78) (0,-6.28) (2,-6.24) (-1,2.8) (2,2.0) (-4,1.3) (3,0.6) (-2,0.0) (1,-0.5) (-4,-1.0) (3,-1.3) (-1,-2.4) (2,-0.1) (0,-1.6) (-3,2.4)}
\grp{cC}{2.22}{(3,8.63) (2,7.57) (5,6.21) (6,5.48) (3,5.31) (6,5.17) (-2,4.79) (1,3.37) (-1,3.24) (-6,2.68) (-4,2.57) (4,2.75) (0,1.99) (8,1.65) (3,1.72) (-2,1.44) (7,1.33) (-1,0.89) (-4,0.54) (3,0.61) (8,0.47) (-8,0.06) (1,-0.43) (3,-0.77) (-7,-0.91) (1,-1.19) (-2,-1.36) (-5,-1.6) (2,-1.58) (4,-1.67) (-1,-1.81) (3,-2.05) (-4,-2.37) (2,-2.57) (3,-3.26) (-3,-3.68) (-4,-4.09) (-1,-4.23) (-1,-4.65) (3,-5.27) (-3,-6.03) (4,-6.31) (5,-6.38) (3,-6.86) (-3,-7.46) (-4,-9.12) (-2,3.0) (1,2.2) (-4,1.2) (2,0.8) (-1,0.3) (4,-0.3) (-3,-0.9) (1,-2.2) (-2,-2.8) (3,-3.6) (0,-1.1) (2,0.1)}
\mn{cA}{-0.22}{-0.18}{3.88}
\mn{cB}{0}{-0.03}{3.35}
\mn{cC}{0.22}{-0.53}{3.49}
\mn{cA}{0.78}{0.06}{3.12}
\mn{cB}{1}{-0.29}{3.70}
\mn{cC}{1.22}{-0.32}{4.05}
\mn{cA}{1.78}{0.40}{3.62}
\mn{cB}{2}{0.26}{3.10}
\mn{cC}{2.22}{-0.11}{3.44}
\chlegend
\end{axis}
\end{tikzpicture}
\end{document}
